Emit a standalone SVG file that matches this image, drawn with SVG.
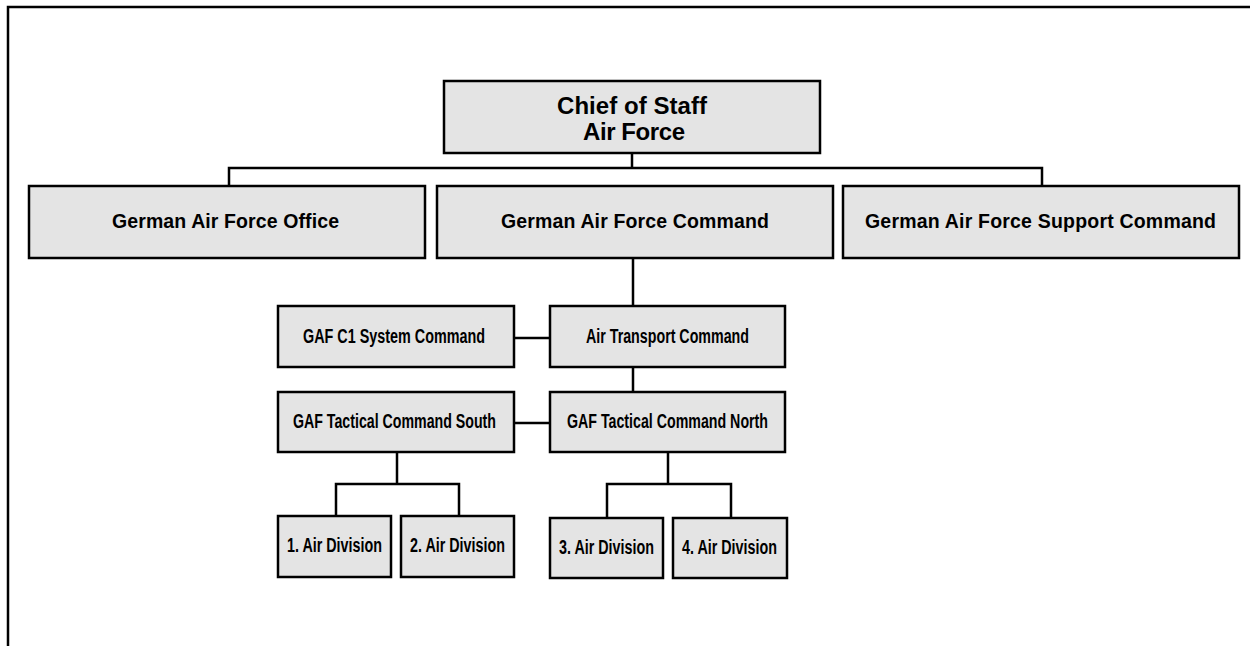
<svg xmlns="http://www.w3.org/2000/svg" width="1250" height="646" viewBox="0 0 1250 646">
  <style>
    .box { fill: #e4e4e4; stroke: #000; stroke-width: 2.5; }
    .lbl { font-family: "Liberation Sans", Arial, sans-serif; font-weight: bold; fill: #000; text-anchor: middle; }
    .t1 { font-size: 24px; }
    .t2 { font-size: 19.5px; }
    .t3 { font-size: 20px; }
    .t4 { font-size: 20px; }
    .conn { fill: none; stroke: #000; stroke-width: 2.5; }
    .frame { fill: none; stroke: #000; stroke-width: 2.5; }
  </style>
  <rect width="1250" height="646" fill="#fff"/>
  <path class="frame" d="M8,646 V7 H1250"/>

  <g id="connectors">
    <path class="conn" d="M632,153 V168 M229,186 V168 H1042 V186"/>
    <path class="conn" d="M633,258 V423 M514,338 H550 M514,423 H550"/>
    <path class="conn" d="M397,452 V484 M336,516 V484 H459 V516"/>
    <path class="conn" d="M668,452 V484 M607,518 V484 H731 V518"/>
  </g>

  <g id="chief">
    <rect class="box" x="444" y="81" width="376" height="72"/>
    <text class="lbl t1" x="632" y="114" textLength="150" lengthAdjust="spacing">Chief of Staff</text>
    <text class="lbl t1" x="634" y="140" textLength="102" lengthAdjust="spacing">Air Force</text>
  </g>

  <g id="office">
    <rect class="box" x="29" y="186" width="396" height="72"/>
    <text class="lbl t2" x="225.5" y="228" textLength="227" lengthAdjust="spacing">German Air Force Office</text>
  </g>
  <g id="command">
    <rect class="box" x="437" y="186" width="396" height="72"/>
    <text class="lbl t2" x="635" y="228" textLength="268" lengthAdjust="spacing">German Air Force Command</text>
  </g>
  <g id="support">
    <rect class="box" x="843" y="186" width="396" height="72"/>
    <text class="lbl t2" x="1040.5" y="228" textLength="351" lengthAdjust="spacing">German Air Force Support Command</text>
  </g>

  <g id="c1">
    <rect class="box" x="278" y="306" width="236" height="61"/>
    <text class="lbl t3" x="394" y="343" textLength="182" lengthAdjust="spacingAndGlyphs">GAF C1 System Command</text>
  </g>
  <g id="transport">
    <rect class="box" x="550" y="306" width="235" height="61"/>
    <text class="lbl t3" x="667.5" y="343" textLength="163" lengthAdjust="spacingAndGlyphs">Air Transport Command</text>
  </g>
  <g id="south">
    <rect class="box" x="278" y="392" width="236" height="60"/>
    <text class="lbl t3" x="394.5" y="428" textLength="203" lengthAdjust="spacingAndGlyphs">GAF Tactical Command South</text>
  </g>
  <g id="north">
    <rect class="box" x="550" y="392" width="235" height="60"/>
    <text class="lbl t3" x="667.5" y="428" textLength="201" lengthAdjust="spacingAndGlyphs">GAF Tactical Command North</text>
  </g>

  <g id="div1">
    <rect class="box" x="278" y="516" width="113" height="61"/>
    <text class="lbl t4" x="334.5" y="552" textLength="95" lengthAdjust="spacingAndGlyphs">1. Air Division</text>
  </g>
  <g id="div2">
    <rect class="box" x="401" y="516" width="113" height="61"/>
    <text class="lbl t4" x="457.5" y="552" textLength="95" lengthAdjust="spacingAndGlyphs">2. Air Division</text>
  </g>
  <g id="div3">
    <rect class="box" x="550" y="518" width="113" height="60"/>
    <text class="lbl t4" x="606.5" y="554" textLength="95" lengthAdjust="spacingAndGlyphs">3. Air Division</text>
  </g>
  <g id="div4">
    <rect class="box" x="673" y="518" width="114" height="60"/>
    <text class="lbl t4" x="729.5" y="554" textLength="95" lengthAdjust="spacingAndGlyphs">4. Air Division</text>
  </g>
</svg>
